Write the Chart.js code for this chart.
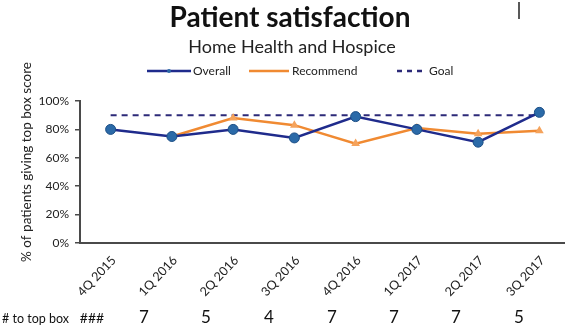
<!DOCTYPE html>
<html>
<head>
<meta charset="utf-8">
<script src="https://cdn.jsdelivr.net/npm/chart.js@4/dist/chart.umd.min.js"></script>
<style>
  html, body { margin: 0; padding: 0; background: #fff; overflow: hidden; }
  #wrap { position: relative; width: 576px; height: 328px; }
</style>
</head>
<body>
<div id="wrap"><canvas id="c"></canvas></div>
<script>
// Quarterly patient satisfaction, share of patients giving the top box score
const quarters = ['4Q 2015', '1Q 2016', '2Q 2016', '3Q 2016', '4Q 2016', '1Q 2017', '2Q 2017', '3Q 2017'];
const overall = [80, 75, 80, 74, 89, 80, 71, 92];
const recommend = [null, 75, 88, 83, 70, 81, 77, 79];
const goal = [90, 90, 90, 90, 90, 90, 90, 90];
const yTicks = [0, 20, 40, 60, 80, 100];
const topBoxLabel = '# to top box';
const topBoxCounts = ['###', '7', '5', '4', '7', '7', '7', '5'];

const FONT = 'Lato, "Open Sans", sans-serif';
const NAVY = '#1f2b8c';
const MARKER_BLUE = '#2b6aa8';
const ORANGE = '#f08a32';
const TRI_ORANGE = '#f5a35c';
const GOAL_NAVY = '#2c2a78';

// horizontal centres of the cells in the count row
const countCellX = [92, 144, 206, 269, 332, 394, 456, 519];

// Titles, legend, axis title and the count row under the axis
const decorations = {
  id: 'decorations',
  afterDraw(chart) {
    const ctx = chart.ctx;
    ctx.save();
    ctx.fillStyle = '#111';
    ctx.textAlign = 'center';
    ctx.textBaseline = 'alphabetic';
    ctx.font = 'bold 28px ' + FONT;
    ctx.fillText('Patient satisfaction', 290, 27);
    ctx.font = '18px ' + FONT;
    ctx.fillStyle = '#222';
    ctx.fillText('Home Health and Hospice', 292, 53);

    // legend
    ctx.font = '12px ' + FONT;
    ctx.textAlign = 'left';
    ctx.textBaseline = 'middle';
    const ly = 71;
    ctx.lineWidth = 2.5;
    ctx.strokeStyle = NAVY;
    ctx.beginPath(); ctx.moveTo(147, ly); ctx.lineTo(191, ly); ctx.stroke();
    ctx.fillStyle = MARKER_BLUE;
    ctx.beginPath(); ctx.arc(169, ly, 2, 0, Math.PI * 2); ctx.fill();
    ctx.fillStyle = '#222';
    ctx.fillText('Overall', 193, ly);
    ctx.strokeStyle = ORANGE;
    ctx.beginPath(); ctx.moveTo(249, ly); ctx.lineTo(289, ly); ctx.stroke();
    ctx.fillText('Recommend', 292, ly);
    ctx.strokeStyle = GOAL_NAVY;
    ctx.setLineDash([5, 5]);
    ctx.beginPath(); ctx.moveTo(397, ly); ctx.lineTo(426, ly); ctx.stroke();
    ctx.setLineDash([]);
    ctx.fillText('Goal', 429, ly);

    // small stroke at the top right
    ctx.strokeStyle = '#222';
    ctx.lineWidth = 1.5;
    ctx.beginPath(); ctx.moveTo(519, 2); ctx.lineTo(519, 19); ctx.stroke();

    // y axis title
    ctx.save();
    ctx.translate(27, 162);
    ctx.rotate(-Math.PI / 2);
    ctx.textAlign = 'center';
    ctx.textBaseline = 'middle';
    ctx.font = '13.5px ' + FONT;
    ctx.fillStyle = '#222';
    ctx.fillText('% of patients giving top box score', 0, 0);
    ctx.restore();

    // count row
    ctx.fillStyle = '#111';
    ctx.textBaseline = 'alphabetic';
    ctx.font = '12.5px ' + FONT;
    ctx.textAlign = 'left';
    ctx.fillText(topBoxLabel, 2, 323);
    ctx.textAlign = 'center';
    topBoxCounts.forEach((v, i) => {
      ctx.font = (i === 0 ? '14px ' : '17px ') + FONT;
      ctx.fillText(v, countCellX[i], 323);
    });
    ctx.restore();
  }
};

new Chart(document.getElementById('c'), {
  type: 'line',
  data: {
    labels: quarters,
    datasets: [
      {
        label: 'Goal',
        data: goal,
        borderColor: GOAL_NAVY,
        borderWidth: 2,
        borderDash: [6, 5],
        pointRadius: 0,
        order: 3
      },
      {
        label: 'Recommend',
        data: recommend,
        borderColor: ORANGE,
        backgroundColor: TRI_ORANGE,
        borderWidth: 2.5,
        pointStyle: 'triangle',
        pointRadius: 5,
        pointBorderWidth: 0,
        spanGaps: false,
        order: 2
      },
      {
        label: 'Overall',
        data: overall,
        borderColor: NAVY,
        backgroundColor: MARKER_BLUE,
        borderWidth: 2.5,
        pointStyle: 'circle',
        pointRadius: 5,
        pointBorderColor: '#1d4f86',
        pointBorderWidth: 1,
        order: 1
      }
    ]
  },
  options: {
    responsive: true,
    maintainAspectRatio: false,
    animation: false,
    events: [],
    layout: { padding: { top: 101, right: 2, left: 0, bottom: 0 } },
    plugins: {
      legend: { display: false },
      title: { display: false },
      tooltip: { enabled: false }
    },
    scales: {
      x: {
        offset: true,
        grid: { display: false, drawTicks: false },
        border: { color: '#4a4a4a', width: 2 },
        ticks: {
          minRotation: 47,
          maxRotation: 47,
          padding: 10,
          labelOffset: 3,
          color: '#222',
          font: { family: FONT, size: 12.5 }
        },
        afterFit(s) { s.height = 85; }
      },
      y: {
        min: 0,
        max: 100,
        afterBuildTicks(s) { s.ticks = yTicks.map(v => ({ value: v })); },
        grid: { drawOnChartArea: false, drawTicks: true, tickLength: 5, color: '#4a4a4a', lineWidth: 1.5 },
        border: { color: '#4a4a4a', width: 2 },
        ticks: {
          padding: 6,
          color: '#222',
          font: { family: FONT, size: 12 },
          callback: v => v + '%'
        },
        afterFit(s) { s.width = 80; }
      }
    }
  },
  plugins: [decorations]
});
</script>
</body>
</html>
